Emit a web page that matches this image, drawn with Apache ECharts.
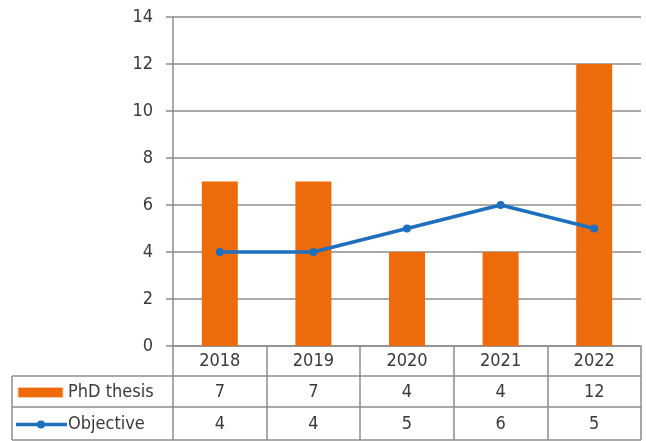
<!DOCTYPE html>
<html><head><meta charset="utf-8">
<script src="https://cdn.jsdelivr.net/npm/echarts@6/dist/echarts.min.js"></script>
<style>html,body{margin:0;padding:0;background:#fff}#c{width:646px;height:441px}</style>
</head><body><div id="c"></div>
<script>
var years = ['2018','2019','2020','2021','2022'];
var phdThesis = [7, 7, 4, 4, 12];
var objective = [4, 4, 5, 6, 5];
var yTicks = [0, 2, 4, 6, 8, 10, 12, 14];
var seriesNames = ['PhD thesis', 'Objective'];

var FONT = "'DejaVu Sans Condensed','Liberation Sans Narrow','Liberation Sans',sans-serif";
var ORANGE = '#EE6B0B';
var BLUE = '#1F6FBF';
var GRID = '#8c8c8c';
var TXT = '#3a3a3a';
var FS = 18;

var chart = echarts.init(document.getElementById('c'), null, {renderer:'canvas'});
var option = {
  animation: false,
  grid: {left: 173, right: 5, top: 17, bottom: 95, containLabel: false},
  xAxis: {
    type: 'category', data: years, boundaryGap: true,
    axisLine: {show: true, lineStyle: {color: GRID, width: 1.5}},
    axisTick: {show: true, alignWithLabel: false, length: 94, lineStyle: {color: GRID, width: 1.5}},
    axisLabel: {color: TXT, fontFamily: FONT, fontSize: FS, margin: 6}
  },
  yAxis: {
    type: 'value', min: yTicks[0], max: yTicks[yTicks.length-1], interval: 2,
    axisLine: {show: true, lineStyle: {color: GRID, width: 1.5}},
    axisTick: {show: true, length: 7, lineStyle: {color: GRID, width: 1.5}},
    axisLabel: {color: TXT, fontFamily: FONT, fontSize: FS, margin: 20},
    splitLine: {show: true, lineStyle: {color: GRID, width: 1.5}}
  },
  series: [
    {name: seriesNames[0], type: 'bar', data: phdThesis, barWidth: 36,
     itemStyle: {color: ORANGE}},
    {name: seriesNames[1], type: 'line', data: objective, symbol: 'circle', symbolSize: 8,
     lineStyle: {color: BLUE, width: 3.5}, itemStyle: {color: BLUE}}
  ]
};
chart.setOption(option);

// data table below the axis
var g = [];
var x1 = 641, xl = 12;
var rowY = [346, 376, 407, 440];
[1,2,3].forEach(function(i){
  g.push({type:'line', shape:{x1: xl, y1: rowY[i], x2: x1, y2: rowY[i]}, style:{stroke: GRID, lineWidth: 1.5}});
});
g.push({type:'line', shape:{x1: xl, y1: rowY[1], x2: xl, y2: rowY[3]}, style:{stroke: GRID, lineWidth: 1.5}});
var rows = [phdThesis, objective];
rows.forEach(function(vals, r){
  var cy = (rowY[r+1] + rowY[r+2]) / 2 + 1;
  vals.forEach(function(v, i){
    var px = chart.convertToPixel({xAxisIndex: 0}, i);
    g.push({type:'text', x: px, y: cy, style:{text: String(v), fill: TXT, font: FS + 'px ' + FONT, align:'center', verticalAlign:'middle'}});
  });
  g.push({type:'text', x: 68, y: cy, style:{text: seriesNames[r], fill: TXT, font: FS + 'px ' + FONT, align:'left', verticalAlign:'middle'}});
});
// legend keys
var cy1 = (rowY[1]+rowY[2])/2 + 1, cy2 = (rowY[2]+rowY[3])/2 + 1;
g.push({type:'rect', shape:{x: 18, y: cy1-5, width: 45, height: 10}, style:{fill: ORANGE, stroke:'#f3c9a6', lineWidth: 1}});
g.push({type:'line', shape:{x1: 16, y1: cy2, x2: 67, y2: cy2}, style:{stroke: BLUE, lineWidth: 3.5}});
g.push({type:'circle', shape:{cx: 41, cy: cy2, r: 4}, style:{fill: BLUE}});
chart.setOption({graphic: g});
</script></body></html>
